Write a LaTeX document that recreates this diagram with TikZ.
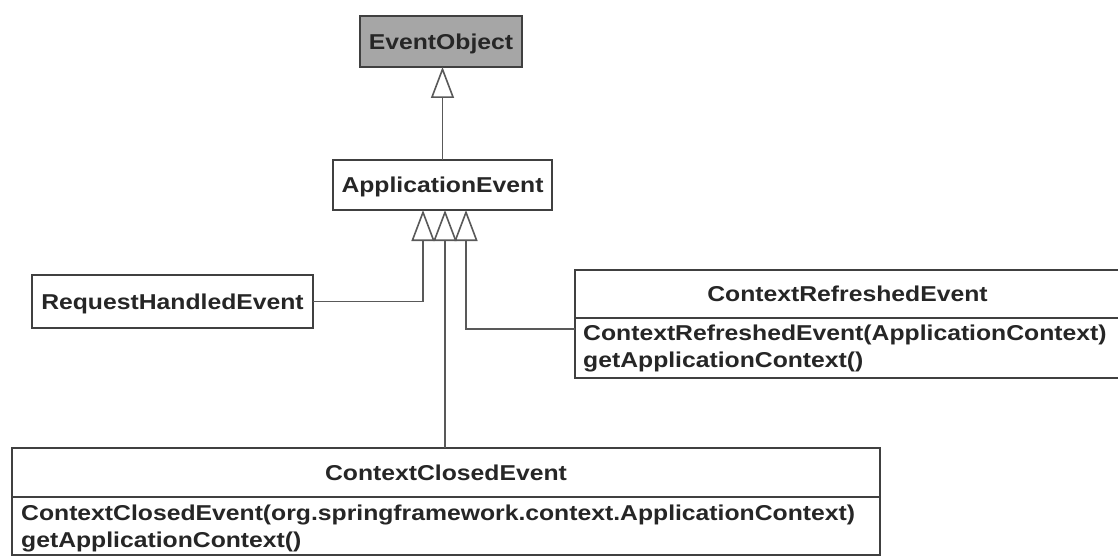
\documentclass[tikz,border=0pt]{standalone}
\usepackage{fontspec}
\setmainfont{Liberation Sans}[FakeStretch=1.15]
\usetikzlibrary{arrows.meta,calc,positioning}

\begin{document}
\begin{tikzpicture}[x=1pt,y=-1pt]

\useasboundingbox[fill=white] (0,0) rectangle (1118,556);
% font size of all class texts
\def\fs{21.5}
% node style definition
\tikzstyle{cls} = [
	draw=black!75, line width=1.6pt, fill=white, rectangle,
	inner sep=0pt, outer sep=0pt, text height=15.4pt, text depth=0pt,
	font=\fontsize{\fs}{27}\selectfont\bfseries, text=black!85 ];
\tikzstyle{op} = [anchor=base west, inner sep=0pt,
	font=\fontsize{\fs}{27}\selectfont\bfseries, text=black!85];
\tikzstyle{inherit} = [draw=black!65, line width=1.6pt,
	-{Triangle[open,length=31pt,width=23pt]}];

\node[cls,fill=black!35,minimum width=162,minimum height=51] (obj) at (441,41.5) {EventObject};
\node[cls,minimum width=219,minimum height=50] (app) at (442.5,185) {ApplicationEvent};
\node[cls,minimum width=281,minimum height=53] (req) at (172.5,301.5) {RequestHandledEvent};

% ContextRefreshedEvent
\node[cls,minimum width=545,minimum height=48] (crH) at (847.5,294) {ContextRefreshedEvent};
\node[cls,minimum width=545,minimum height=60,below=0pt of crH] (crM) {};
\node[op] (cr1) at ($(crM.north west)+(8,22)$) {ContextRefreshedEvent(ApplicationContext)};
\node[op] (cr2) at ($(crM.north west)+(8,49)$) {getApplicationContext()};

% ContextClosedEvent
\node[cls,minimum width=868,minimum height=49] (ccH) at (446,472.5) {ContextClosedEvent};
\node[cls,minimum width=868,minimum height=58,below=0pt of ccH] (ccM) {};
\node[op] (cc1) at ($(ccM.north west)+(9,23)$) {ContextClosedEvent(org.springframework.context.ApplicationContext)};
\node[op] (cc2) at ($(ccM.north west)+(9,50)$) {getApplicationContext()};

% arrow heads under ApplicationEvent
\coordinate (t1) at ([xshift=-19.5]app.south);
\coordinate (t2) at ([xshift=2.5]app.south);
\coordinate (t3) at ([xshift=23.5]app.south);
\coordinate (crIn) at ($(crM.north west)+(0,11)$);

\draw[inherit] (app.north) -- (app.north |- obj.south);
\draw[inherit] (req.east) -| (t1);
\draw[inherit] (t2 |- ccH.north) -- (t2);
\draw[inherit] (crIn) -| (t3);

\end{tikzpicture}
\end{document}
